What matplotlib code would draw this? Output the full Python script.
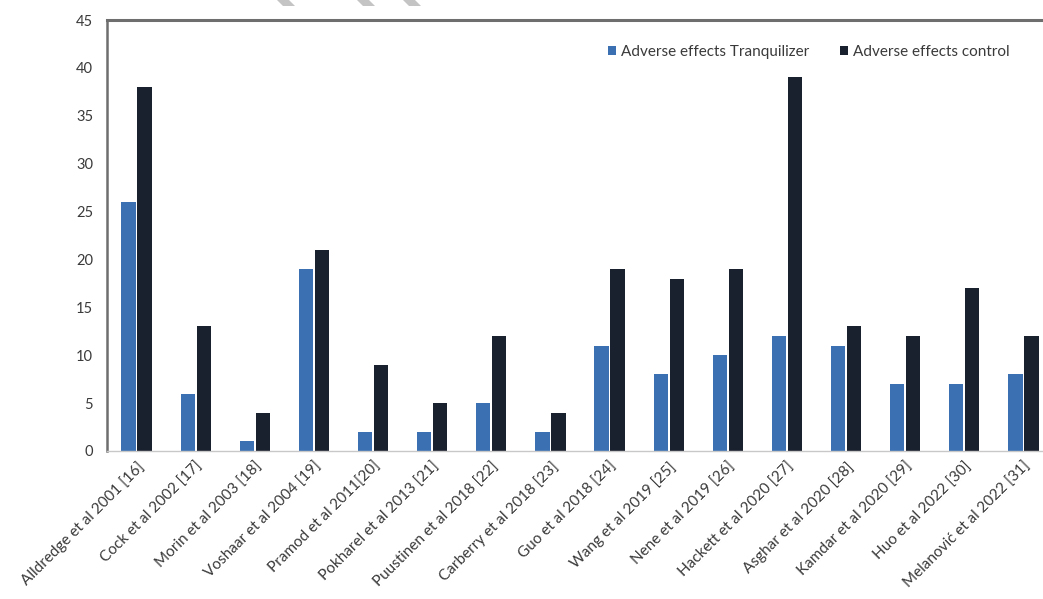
import matplotlib
matplotlib.use("Agg")
import matplotlib.pyplot as plt
import numpy as np
from matplotlib.patches import Polygon

plt.rcParams['font.family'] = ['Lato', 'DejaVu Sans']

studies = [
    "Alldredge et al 2001 [16]", "Cock et al 2002 [17]", "Morin et al 2003 [18]",
    "Voshaar et al 2004 [19]", "Pramod et al 2011[20]", "Pokharel et al 2013 [21]",
    "Puustinen et al 2018 [22]", "Carberry et al 2018 [23]", "Guo et al 2018 [24]",
    "Wang et al 2019 [25]", "Nene et al 2019 [26]", "Hackett et al 2020 [27]",
    "Asghar et al 2020 [28]", "Kamdar et al 2020 [29]", "Huo et al 2022 [30]",
    "Melanović et al 2022 [31]",
]
tranquilizer = [26, 6, 1, 19, 2, 2, 5, 2, 11, 8, 10, 12, 11, 7, 7, 8]
control = [38, 13, 4, 21, 9, 5, 12, 4, 19, 18, 19, 39, 13, 12, 17, 12]
yticks = [0, 5, 10, 15, 20, 25, 30, 35, 40, 45]

W, H = 1043, 599
fig = plt.figure(figsize=(W / 100, H / 100), dpi=100)
# plot area runs slightly past the right edge of the figure
left, right, top, bottom = 107, 1053, 20, 451
ax = fig.add_axes([left / W, 1 - bottom / H, (right - left) / W, (bottom - top) / H])

x = np.arange(len(studies))
bw = 0.24
off = 0.135
ax.bar(x - off, tranquilizer, bw, color="#3b71b3", label="Adverse effects Tranquilizer")
ax.bar(x + off, control, bw, color="#1a212e", label="Adverse effects control")

ax.set_xlim(-0.5, len(studies) - 0.5)
ax.set_ylim(0, 45)
ax.set_yticks(yticks)
ax.set_yticklabels([str(v) for v in yticks], fontsize=10.5, color="#3a3a3a")
ax.set_xticks(x)
ax.set_xticklabels(studies, rotation=45, ha="right", rotation_mode="anchor",
                   fontsize=11, color="#3a3a3a")
ax.tick_params(axis="y", length=0, pad=10)
ax.tick_params(axis="x", length=0, pad=6)

ax.spines["top"].set_color("#6e6e6e")
ax.spines["top"].set_linewidth(2.2)
ax.spines["left"].set_color("#6e6e6e")
ax.spines["left"].set_linewidth(1.8)
ax.spines["bottom"].set_color("#c8c8c8")
ax.spines["bottom"].set_linewidth(1.0)
ax.spines["right"].set_visible(False)

ax.legend(loc="upper left", bbox_to_anchor=((594 - left) / (right - left), 0.975),
          ncol=2, frameon=False, fontsize=11, handlelength=0.55, handleheight=0.55,
          handletextpad=0.3, columnspacing=2.0, labelcolor="#3a3a3a")

# faint grey slanted marks along the upper edge
for a in (277, 357, 403):
    pts = [(a, 0), (a + 12, 0), (a + 18, 6), (a + 6, 6)]
    pts = [(px / W, 1 - py / H) for px, py in pts]
    fig.patches.append(Polygon(pts, closed=True, transform=fig.transFigure,
                               facecolor="#c4c4c4", edgecolor="none"))

fig.savefig("out.png", dpi=100)
